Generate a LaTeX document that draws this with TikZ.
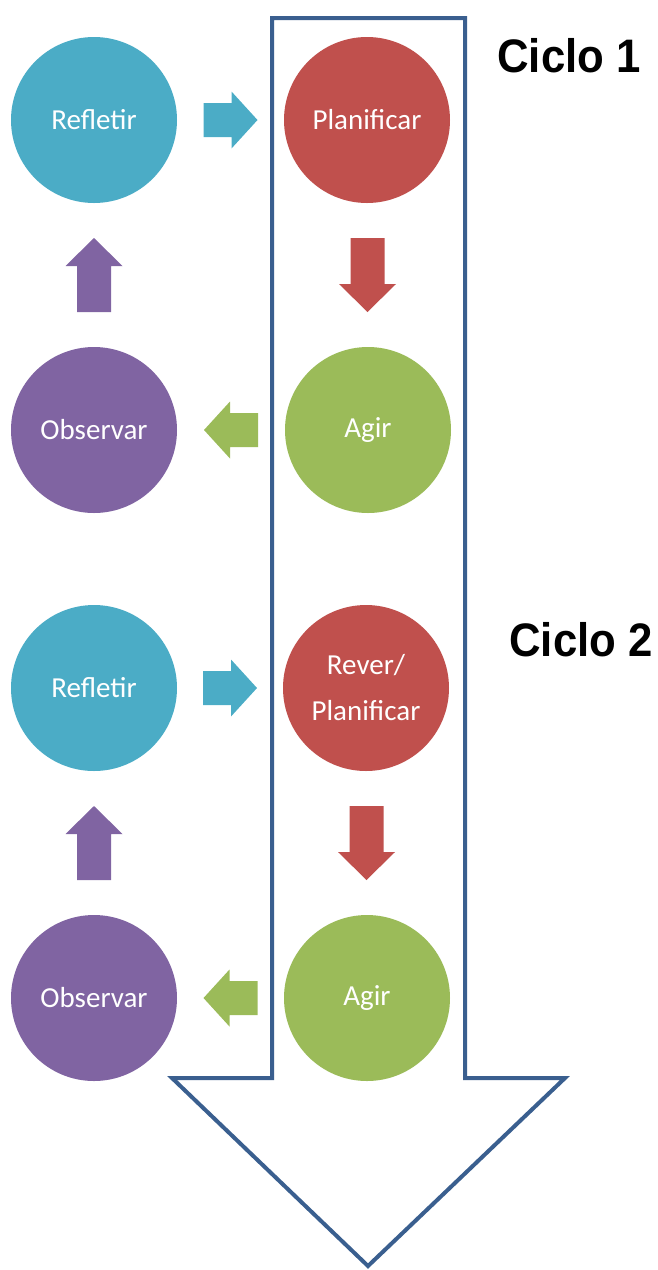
\documentclass[tikz,border=0pt]{standalone}
\usepackage{fontspec}
\setmainfont{Carlito}
\newfontfamily\ciclofont{Liberation Sans}
\usetikzlibrary{calc}
\definecolor{cAqua}{HTML}{4BACC6}
\definecolor{cRed}{HTML}{C0504D}
\definecolor{cGreen}{HTML}{9BBB59}
\definecolor{cPurple}{HTML}{8064A2}
\definecolor{cFrame}{HTML}{3A5F8F}
\tikzset{
  stage/.style={circle, minimum size=166pt, inner sep=0pt, text=white,
    font=\fontsize{29}{46}\selectfont, align=center},
  hblock/.pic={\fill[#1] (-27,-17) -- (1,-17) -- (1,-28.5) -- (27,0) -- (1,28.5) -- (1,17) -- (-27,17) -- cycle;},
  vblock/.pic={\fill[#1] (-17,37) -- (-17,-9) -- (-28.5,-9) -- (0,-37) -- (28.5,-9) -- (17,-9) -- (17,37) -- cycle;},
  frame/.style={draw=cFrame, line width=4pt, fill=white},
  ciclo/.style={font=\ciclofont\bfseries\fontsize{47}{50}\selectfont, inner sep=0pt}
}
\begin{document}
\begin{tikzpicture}[x=1pt,y=-1pt]
\useasboundingbox (0,0) rectangle (657,1270);
% big down arrow
\draw[frame] (272,18) -- (465,18) -- (465,1078) -- (565,1078) -- (368,1266) -- (172,1078) -- (272,1078) -- cycle;
% cycle 1
\node[stage, fill=cAqua] (ref1) at (94,120) {Refletir};
\node[stage, fill=cRed] (pla1) at (367,120) {Planificar};
\node[stage, fill=cPurple] (obs1) at (94,430) {Observar};
\node[stage, fill=cGreen] (agi1) at (368,430) {Agir};
% cycle 2
\node[stage, fill=cAqua] (ref2) at (94,688) {Refletir};
\node[stage, fill=cRed] (pla2) at (366,688) {Rever/\\Planificar};
\node[stage, fill=cPurple] (obs2) at (94,998) {Observar};
\node[stage, fill=cGreen] (agi2) at (367,998) {Agir};
% block arrows
\pic at ($(ref1)!0.5!(pla1)$) {hblock=cAqua};
\pic[rotate=180] at ($(pla1)!0.5!(agi1)$) {vblock=cRed};
\pic[rotate=180] at ($(agi1)!0.5!(obs1)$) {hblock=cGreen};
\pic at ($(obs1)!0.5!(ref1)$) {vblock=cPurple};
\pic at ($(ref2)!0.5!(pla2)$) {hblock=cAqua};
\pic[rotate=180] at ($(pla2)!0.5!(agi2)$) {vblock=cRed};
\pic[rotate=180] at ($(agi2)!0.5!(obs2)$) {hblock=cGreen};
\pic at ($(obs2)!0.5!(ref2)$) {vblock=cPurple};
% labels
\node[ciclo] (c1) at (569,56) {\scalebox{0.93}[1]{Ciclo 1}};
\node[ciclo] (c2) at (581,640) {\scalebox{0.93}[1]{Ciclo 2}};
\end{tikzpicture}
\end{document}
